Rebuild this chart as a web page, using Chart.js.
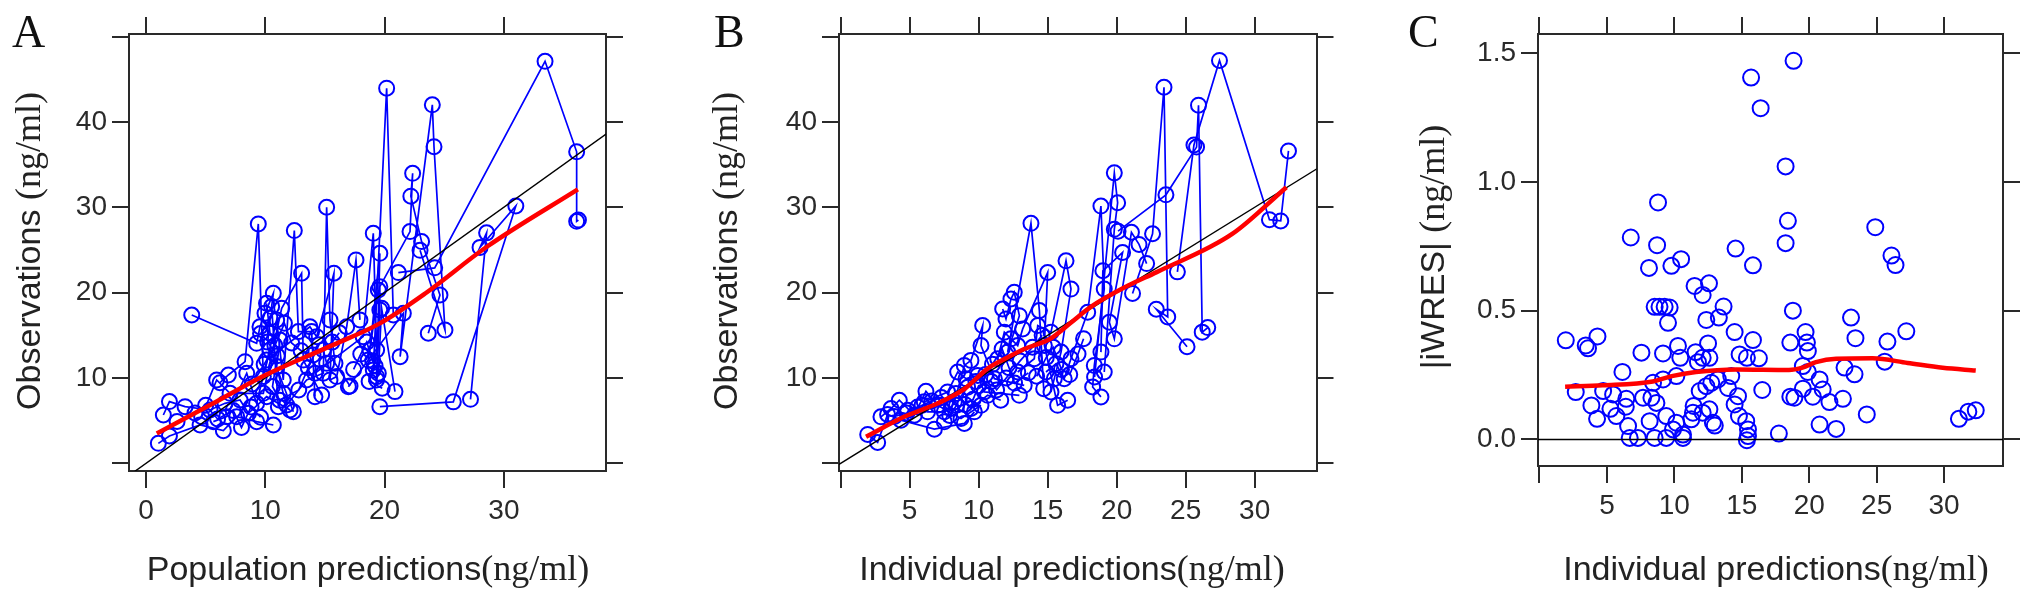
<!DOCTYPE html>
<html><head><meta charset="utf-8">
<script src="https://cdn.jsdelivr.net/npm/chart.js@4.4.0/dist/chart.umd.min.js"></script>
<style>
html,body{margin:0;padding:0;background:#fff;}
#wrap{position:relative;width:2031px;height:601px;overflow:hidden;background:#fff;}
.panel{position:absolute;top:0;height:601px;}
.lbl{position:absolute;white-space:nowrap;color:#222;font-family:"Liberation Sans",Arial,sans-serif;font-size:34px;line-height:40px;height:40px;z-index:5;}
.serif{font-family:"Liberation Serif","Times New Roman",serif;font-size:36px;}
.letter{position:absolute;font-family:"Liberation Serif","Times New Roman",serif;font-size:46px;line-height:46px;color:#111;z-index:5;}
.xt{transform:translateX(-50%);}
.yt{transform:translate(-50%,-50%) rotate(-90deg);}
</style></head>
<body><div id="wrap">
<div class="panel" style="left:0;width:640px"><canvas id="cA"></canvas></div>
<div class="panel" style="left:660px;width:700px"><canvas id="cB"></canvas></div>
<div class="panel" style="left:1380px;width:651px"><canvas id="cC"></canvas></div>

<div class="letter" style="left:12px;top:9px">A</div>
<div class="letter" style="left:714px;top:9px">B</div>
<div class="letter" style="left:1408px;top:9px">C</div>

<div class="lbl xt" style="left:368px;top:548px">Population predictions<span class="serif">(ng/ml)</span></div>
<div class="lbl xt" style="left:1072px;top:548px">Individual predictions<span class="serif">(ng/ml)</span></div>
<div class="lbl xt" style="left:1776px;top:548px">Individual predictions<span class="serif">(ng/ml)</span></div>

<div class="lbl yt" style="left:28px;top:251px">Observations <span class="serif">(ng/ml)</span></div>
<div class="lbl yt" style="left:725px;top:251px">Observations <span class="serif">(ng/ml)</span></div>
<div class="lbl yt" style="left:1432px;top:247px">|iWRES| <span class="serif">(ng/ml)</span></div>
</div>
<script>
// ---------- Panel A: observations vs population predictions (one row per subject) ----------
const aPred = [
  [1.03,1.96,4.53,6.48,7.6,9.27,10.67],
  [1.45,1.96,3.27,5.36,6.62,7.88,8.58,10.11,12.07],
  [3.83,9.27,9.55,9.97,10.67,10.53,11.09],
  [6.2,6.9,8.3,9.41,9.83,10.39,12.35],
  [5.64,6.76,8.44,9.27,10.95,11.5,12.43,12.77,13.88,14.16],
  [4.66,5.92,7.04,9.83,11.37,13.04,13.18,14.72],
  [10.1,10.39,11.23,10.95,11.5,11.79,13.46,14.86,15.14,15.42,15.84,17.1],
  [10.11,13.74,14.3,15.75,15.42,15.98,16.82,17.6,17.93],
  [14.86,15.14,14.16,18.2,19.05,19.33,19.05,20.17,20.73],
  [18.63,19.47,18.77,19.6,19.33,19.47,19.75,20.87],
  [19.6,25.76,31.0,28.0,28.55,27.2],
  [19.34,19.6,19.6,22.13,22.35,22.2,23.1,24.64,23.66],
  [16.96,21.57,21.3,24.0,24.14,25.06,22.97],
  [21.15,24.2,33.45,36.1,36.1,36.25],
  [9.6,10.4,10.2,11.0,10.6,11.2,12.8,13.6,14.5],
  [8.9,9.9,10.8,11.6,12.2,13.0,14.0,15.6,16.2],
  [17.4,18.0,18.5,19.0,19.2,18.7,19.8],
  [2.6,4.1,5.0,6.0,7.3,8.0,8.8,9.6]
];
const aObs = [
  [2.34,3.2,4.49,3.83,5.47,4.88,4.49],
  [5.66,7.23,6.64,6.25,7.03,7.42,5.86,7.81,6.25],
  [17.38,14.06,16.0,17.58,19.92,18.36,6.64],
  [9.45,10.35,11.91,28.05,10.16,13.28,6.05],
  [4.88,5.47,10.55,7.03,16.8,9.77,27.27,15.43,15.43,7.81],
  [5.47,9.77,8.2,8.2,18.16,22.27,12.1,8.0],
  [18.75,15.23,14.45,11.33,8.2,6.84,9.77,10.55,30.0,16.8,11.72,9.06],
  [12.1,16.0,14.84,22.27,9.77,10.16,16.0,23.83,16.8],
  [13.28,11.72,10.55,14.84,26.95,13.28,10.94,43.95,17.38],
  [12.1,20.3,13.28,24.6,9.77,10.55,18.16,8.4],
  [6.64,7.2,30.15,25.3,27.0,7.5],
  [10.15,17.97,20.7,27.15,33.98,31.3,25.98,19.73,15.24],
  [8.98,17.58,12.5,42.0,37.1,15.63,24.96],
  [22.35,22.9,47.1,36.5,28.35,28.5],
  [15.2,17.0,14.2,12.6,9.0,7.4,8.6,11.2,13.9],
  [9.3,11.6,13.8,16.4,14.1,13.2,12.7,14.2,15.3],
  [11.0,12.8,14.2,12.0,11.4,9.6,8.8],
  [4.9,5.9,6.8,5.2,6.2,4.2,6.6,5.4]
];
const aSmoothX = [0.9,5.6,9.8,15.4,19.6,23.4,28.6,36.2];
const aSmoothY = [3.5,7.0,10.2,13.7,16.4,19.9,25.4,32.1];

// ---------- Panel B: observations vs individual predictions ----------
const bIpred = [
  [1.96,2.68,3.4,4.37,6.79,8.96,9.69],
  [2.92,3.65,4.25,5.34,6.18,7.03,8.72,10.17],
  [4.86,5.58,6.3,7.51,8.0,8.36,9.44,10.65,11.6],
  [6.06,7.75,8.48,9.08,9.93,10.41,12.95],
  [7.51,8.24,8.96,9.44,10.29,10.17,11.14,13.3],
  [11.74,11.98,12.34,12.58,12.95,12.1,13.79,14.4,14.71],
  [11.38,11.86,12.34,12.83,13.19,15.0,14.76,15.72,16.45],
  [12.83,14.03,14.28,15.24,16.33,16.69,15.97,15.48,15.24],
  [14.88,15.6,16.2,16.69,17.9,18.86,19.1,18.38,18.26,18.86],
  [18.4,19.83,20.07,19.83,19.1],
  [18.86,19.0,20.43,19.47,19.83,21.07,21.62,22.17],
  [21.15,22.6,23.43,23.7,22.87,25.1],
  [20.1,23.57,25.79,25.93,26.2,26.6],
  [24.4,25.6,27.45,31.07,31.89,32.45],
  [8.6,9.2,9.8,10.5,11.0,11.7,12.2,12.6,13.6],
  [9.0,9.6,10.0,10.9,11.3,12.0,13.0,13.9,14.6],
  [14.2,14.9,15.4,16.0,16.6,17.2,17.6],
  [3.9,4.8,5.9,6.6,7.3,7.9,8.4]
];
const bObs = [
  [3.38,2.45,5.72,5.06,4.0,4.67,6.03],
  [5.45,6.42,7.39,5.64,8.44,6.8,5.25,6.8],
  [6.22,6.61,6.03,6.03,6.42,8.17,6.42,7.97,7.39],
  [7.2,8.36,10.7,9.92,10.3,8.36,7.97],
  [4.86,7.2,11.47,12.06,16.14,13.8,9.92,9.14],
  [18.09,16.92,19.25,20.03,17.3,13.03,28.12,17.89,8.75],
  [12.25,15.36,14.59,13.8,15.75,22.36,13.8,6.8,7.39],
  [10.7,12.25,16.14,15.36,23.73,20.42,13.03,9.92,8.36],
  [10.7,11.67,9.92,12.25,17.7,30.14,20.42,11.47,8.95,7.78],
  [10.11,34.03,30.53,27.42,10.7],
  [13.03,22.56,24.7,16.53,14.59,27.07,25.65,23.4],
  [19.9,26.9,44.06,17.15,18.05,13.66],
  [27.2,31.46,37.05,41.96,15.37,15.9],
  [22.43,37.3,47.2,28.55,28.4,36.6],
  [7.6,8.9,9.6,10.4,11.6,13.4,11.2,9.4,10.6],
  [6.9,7.5,9.1,9.6,8.6,10.0,12.0,13.6,15.0],
  [10.2,12.4,13.6,11.0,10.4,12.8,14.6],
  [5.5,5.9,6.8,7.3,7.7,5.6,6.8]
];
const bSmoothX = [1.84,4.6,7.0,9.0,10.65,11.9,13.3,15.2,16.7,18.1,20.8,22.9,28.4,32.3];
const bSmoothY = [3.1,5.45,7.0,8.75,11.1,12.25,13.4,14.6,16.5,18.3,20.8,22.4,26.9,32.35];

// ---------- Panel C: |iWRES| vs individual predictions ----------
const cIpred = [1.95,3.43,3.6,4.3,2.69,3.85,4.27,4.72,5.46,5.26,5.7,6.15,6.44,6.4,6.57,6.69,7.3,7.56,7.68,6.77,
  8.12,8.72,8.79,8.54,8.9,9.28,9.65,9.53,9.78,10.5,9.16,10.27,10.44,8.42,9.16,8.3,8.67,8.17,8.54,9.4,
  9.4,10.15,9.9,10.64,10.64,11.26,10.15,11.5,12.57,12.1,12.37,13.3,13.65,11.58,12.5,11.75,12.6,12.1,11.43,11.88,
  12.37,12.74,13.23,11.38,12.1,12.6,12.86,13.0,13.98,14.47,14.54,15.83,14.84,15.38,15.83,16.27,14.22,14.72,14.47,14.79,
  15.33,15.46,15.46,15.38,16.52,17.75,18.25,18.42,18.25,18.79,18.6,19.73,19.83,19.9,19.53,19.9,18.6,18.9,19.53,20.27,
  20.77,21.0,21.5,22.5,20.77,22.0,23.1,23.43,22.62,23.36,24.27,24.9,26.1,26.4,27.2,25.8,25.6,31.1,31.8,32.35,
  18.84,15.69,16.4];
const cIwres = [0.385,0.365,0.354,0.40,0.184,0.132,0.080,0.188,0.175,0.119,0.091,0.262,0.158,0.127,0.052,0.006,0.006,0.337,0.162,0.784,
  0.666,0.754,0.92,0.515,0.515,0.515,0.512,0.453,0.674,0.70,0.334,0.363,0.317,0.22,0.233,0.162,0.142,0.071,0.006,0.091,
  0.006,0.065,0.039,0.019,0.006,0.078,0.246,0.596,0.606,0.561,0.464,0.473,0.516,0.339,0.373,0.30,0.317,0.317,0.13,0.188,
  0.207,0.22,0.233,0.104,0.104,0.117,0.065,0.054,0.20,0.417,0.741,0.676,0.33,0.317,0.386,0.315,0.246,0.168,0.136,0.091,
  0.071,0.039,0.013,-0.003,0.192,0.023,1.06,0.849,0.762,0.50,0.376,0.417,0.376,0.343,0.285,0.262,0.166,0.162,0.197,0.166,
  0.233,0.194,0.145,0.158,0.058,0.041,0.473,0.393,0.279,0.253,0.097,0.824,0.714,0.677,0.42,0.38,0.302,0.08,0.108,0.113,
  1.47,1.405,1.286];
const cSmoothX = [1.9,4.7,8.4,9.9,11.6,14.6,18.5,19.5,20.5,22,24.7,27.3,29.9,32.35];
const cSmoothY = [0.205,0.21,0.225,0.247,0.262,0.272,0.27,0.279,0.30,0.313,0.315,0.297,0.278,0.268];

// ---------- axis ticks ----------
const aXTicks = [0,10,20,30];          const aXLabels = ['0','10','20','30'];
const bcXTicks = [0,5,10,15,20,25,30]; const bcXLabels = ['','5','10','15','20','25','30'];
const abYTicks = [0,10,20,30,40,50];   const abYLabels = ['','10','20','30','40',''];
const cYTicks = [0,0.5,1.0,1.5];       const cYLabels = ['0.0','0.5','1.0','1.5'];

const BLUE = '#0000ff', RED = '#ff0000', INK = '#2a2a2a';
const TICKFONT = {family:'"Liberation Sans", Arial, sans-serif', size:28};

function axis(pos, min, max, ticks, labels, size) {
  const vertical = (pos === 'left' || pos === 'right');
  return {
    type:'linear', position:pos, min:min, max:max,
    afterBuildTicks: s => { s.ticks = ticks.map(v => ({value:v})); },
    afterFit: s => { if (vertical) s.width = size; else s.height = size; },
    grid:{display:true, drawOnChartArea:false, drawTicks:true, tickLength:17, color:INK, lineWidth:2},
    border:{display:true, color:INK, width:2},
    ticks:{display:!!labels, autoSkip:false, maxRotation:0, minRotation:0, color:INK, font:TICKFONT,
      padding: vertical ? 5 : 6,
      callback:(v,i) => labels ? labels[i] : ''}
  };
}

function pairs(xs, ys){ return xs.map((x,i) => ({x:x, y:ys[i]})); }

function subjectSets(xsList, ysList) {
  return xsList.map((xs,k) => ({
    data: pairs(xs, ysList[k]), showLine:true, borderColor:BLUE, borderWidth:1.7,
    pointRadius:7.5, pointBorderWidth:2, pointBorderColor:BLUE, pointBackgroundColor:'rgba(0,0,0,0)',
    pointHoverRadius:7.5, clip:false
  }));
}
function lineSet(xs, ys, color, width, smooth) {
  return {data:pairs(xs, ys), showLine:true, borderColor:color, borderWidth:width, pointRadius:0,
    pointHoverRadius:0, tension: smooth ? 0.4 : 0, cubicInterpolationMode: smooth ? 'monotone' : 'default'};
}

function makeChart(id, datasets, xr, yr, xt, xl, yt, yl, sz) {
  return new Chart(document.getElementById(id), {
    type:'scatter',
    data:{datasets:datasets},
    options:{
      responsive:true, maintainAspectRatio:false, animation:false,
      layout:{padding:0},
      plugins:{legend:{display:false}, tooltip:{enabled:false}},
      events:[],
      scales:{
        x: axis('bottom', xr[0], xr[1], xt, xl, sz.bottom),
        xTop: axis('top', xr[0], xr[1], xt, null, sz.top),
        y: axis('left', yr[0], yr[1], yt, yl, sz.left),
        yRight: axis('right', yr[0], yr[1], yt, null, sz.right)
      }
    }
  });
}

const identity = [-10, 80];

makeChart('cA',
  [lineSet(aSmoothX, aSmoothY, RED, 4.5, true), lineSet(identity, identity, '#000', 1.4, false)]
    .concat(subjectSets(aPred, aObs)),
  [-1.43, 38.56], [-0.9, 50.3], aXTicks, aXLabels, abYTicks, abYLabels,
  {left:129, right:34, top:34, bottom:130});

makeChart('cB',
  [lineSet(bSmoothX, bSmoothY, RED, 4.5, true), lineSet(identity, identity, '#000', 1.4, false)]
    .concat(subjectSets(bIpred, bObs)),
  [-0.12, 34.48], [-0.9, 50.3], bcXTicks, bcXLabels, abYTicks, abYLabels,
  {left:179, right:43.5, top:34, bottom:130});

makeChart('cC',
  [lineSet(cSmoothX, cSmoothY, RED, 4.5, true), lineSet([-5, 40], [0, 0], '#000', 1.6, false),
   {data:pairs(cIpred, cIwres), showLine:false, pointRadius:8, pointBorderWidth:2, pointBorderColor:BLUE,
    pointBackgroundColor:'rgba(0,0,0,0)', pointHoverRadius:8, clip:false}],
  [-0.11, 34.37], [-0.103, 1.574], bcXTicks, bcXLabels, cYTicks, cYLabels,
  {left:158, right:28, top:34, bottom:135});
</script>
</body></html>
